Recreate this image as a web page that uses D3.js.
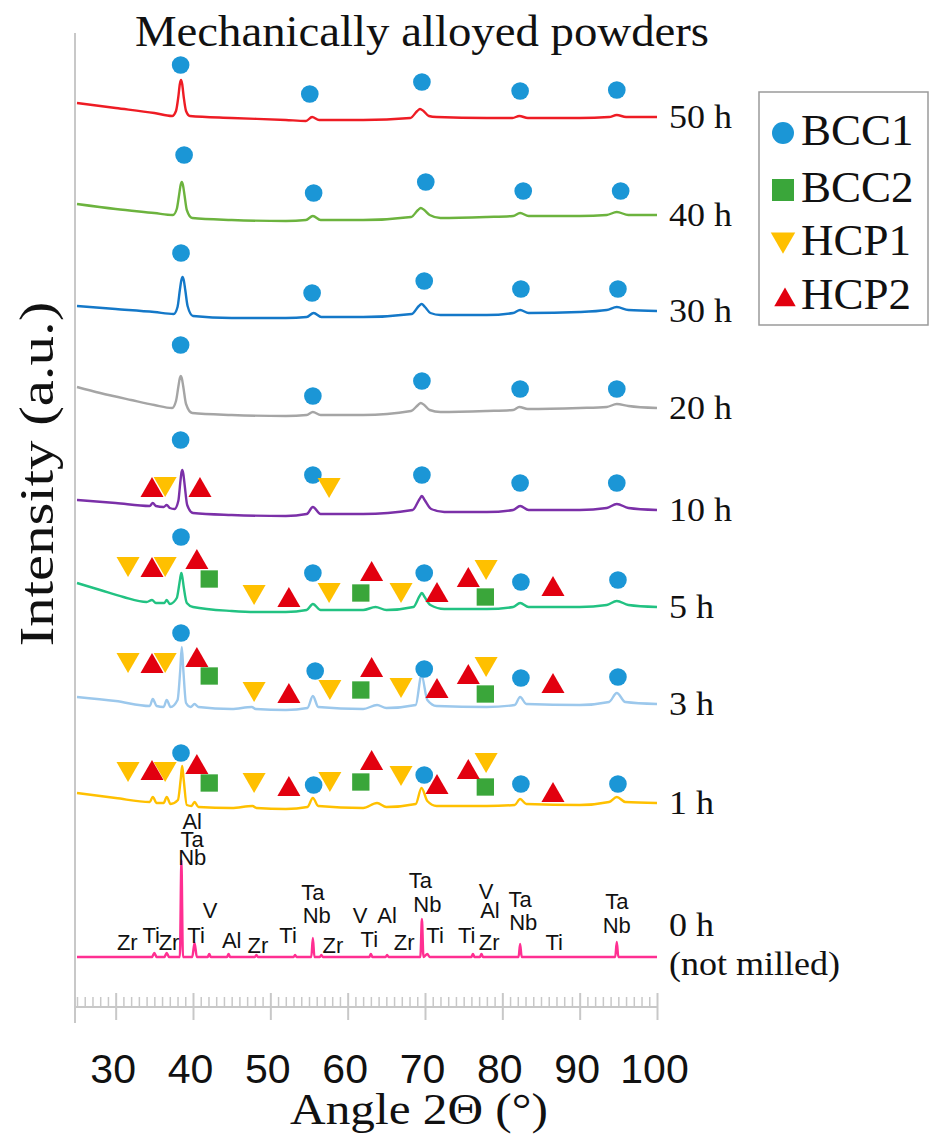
<!DOCTYPE html>
<html><head><meta charset="utf-8">
<script src="https://cdn.jsdelivr.net/npm/d3@7"></script>
<style>body{margin:0;background:#fff}svg{display:block}</style>
</head><body><svg id="chart" width="930" height="1137"></svg>
<script>
// ---------- data ----------
const seriesNames = ["50 h","40 h","30 h","20 h","10 h","5 h","3 h","1 h","0 h"];
const seriesColors = ["#ee1c24","#6cb33e","#1478c8","#a5a5a5","#7b30a8","#22c282","#9cc8ec","#ffc000","#ff2f92"];
const s50h = [[25,904],[30,899],[35,894],[37.3,891],[37.8,896],[38.1,910],[38.3,923],[38.45,927],[38.6,923],[38.8,910],[39.1,896],[39.6,891],[45,889],[52,887],[54.6,886],[55.4,890],[56.3,887],[62,887],[68.1,889],[69.0,896],[69.35,898],[69.8,896],[70.5,891],[71.5,890],[78,889],[81.3,889],[82.2,891],[83.3,889],[90,889],[93.8,890],[94.8,892],[96,890],[100,890]];
const s40h = [[25,803],[30,798],[35,794],[37.4,792],[37.9,798],[38.2,812],[38.4,822],[38.55,825],[38.7,822],[38.9,812],[39.2,797],[39.9,789],[45,787],[52,786],[54.6,787],[55.5,791],[56.5,787],[62,787],[68.2,790],[69.1,797],[69.45,799],[69.9,797],[70.6,792],[72,789],[78,790],[81.4,791],[82.3,794],[83.4,791],[90,791],[93.5,792],[94.8,795],[96.3,792],[100,792]];
const s30h = [[25,701],[30,698],[35,695],[37.5,693],[38.0,700],[38.3,717],[38.5,727],[38.65,730],[38.8,727],[39.0,717],[39.3,701],[40,691],[45,689],[52,689],[54.7,690],[55.6,694],[56.6,690],[62,690],[68.3,693],[69.2,701],[69.55,703],[70.0,700],[70.7,694],[72,692],[78,692],[81.4,694],[82.3,697],[83.4,694],[90,695],[93.5,697],[94.8,700],[96.3,697],[100,696]];
const s20h = [[25,620],[28,614],[32,607],[35,602],[37.3,599],[37.8,606],[38.1,620],[38.3,629],[38.42,631],[38.55,629],[38.75,620],[39.1,603],[39.9,594],[45,592],[52,591],[54.7,592],[55.5,595],[56.5,592],[62,592],[68.2,596],[69.1,602],[69.45,604],[69.9,602],[70.6,597],[72,595],[78,596],[81.4,597],[82.2,600],[83.3,598],[90,599],[93.5,600],[94.8,603],[96.3,601],[100,599]];
const s10h = [[25,507],[30,504],[34.4,501],[34.8,504],[35.2,501],[36.2,500],[36.6,502],[37.0,499],[37.6,498],[38.1,506],[38.35,524],[38.52,535],[38.62,537],[38.75,533],[38.95,520],[39.25,502],[40,494],[45,492],[52,491],[54.7,493],[55.5,500],[56.5,493],[62,493],[68.4,497],[69.3,508],[69.6,511],[69.95,507],[70.8,498],[72.5,495],[78,495],[81.4,497],[82.3,501],[83.4,497],[90,497],[93.5,499],[94.8,503],[96.3,499],[100,497]];
const s5h = [[25,424],[28,417],[31,410],[34,405],[34.7,407],[35.2,404],[36.3,404],[36.6,407],[37.0,403],[37.9,409],[38.25,424],[38.42,432],[38.5,434],[38.62,430],[38.8,420],[39.2,404],[40,400],[45,396],[48,395],[52,395],[54.7,397],[55.5,403],[56.5,397],[62,397],[63.6,400],[65,397],[68.5,400],[69.3,411],[69.6,414],[69.95,410],[70.7,402],[72.5,398],[78,398],[81.4,400],[82.3,404],[83.4,400],[90,400],[93.5,402],[94.8,406],[96.3,402],[100,400]];
const s3h = [[25,310],[30,306],[34.4,301],[34.8,308],[35.3,301],[36.2,300],[36.6,307],[37.1,300],[38.0,307],[38.35,337],[38.55,360],[38.75,337],[39.1,304],[39.7,300],[40.2,303],[40.7,300],[45,298],[47.6,300],[48.1,298],[52,297],[54.8,299],[55.5,311],[56.2,300],[62,298],[63.8,302],[65,299],[68.8,302],[69.55,332],[70.3,307],[71.5,301],[78,300],[81.6,302],[82.3,310],[83.1,303],[90,302],[93.8,305],[94.8,314],[95.9,305],[100,303]];
const s1h = [[25,214],[30,209],[34.4,205],[34.8,210],[35.3,204],[36.2,204],[36.6,210],[37.1,203],[38.05,207],[38.4,227],[38.6,241],[38.8,227],[39.2,202],[39.8,201],[40.2,205],[40.7,200],[45,199],[47.7,201],[48.2,199],[52,198],[54.8,200],[55.5,209],[56.2,201],[62,199],[63.8,204],[65,200],[68.8,203],[69.55,219],[70.3,206],[71.5,201],[78,201],[81.6,202],[82.3,208],[83.1,203],[90,202],[93.8,205],[94.8,210],[95.9,205],[100,204]];
const s0h = [[25,50],[34.7,50],[35.0,54],[35.3,50],[36.3,50],[36.6,54],[36.9,50],[38.3,50],[38.5,147],[38.7,50],[39.9,50],[40.2,64],[40.5,50],[41.9,50],[42.1,53],[42.3,50],[44.4,50],[44.6,53],[44.8,50],[48.0,50],[48.2,52],[48.4,50],[53.0,50],[53.2,52],[53.4,50],[55.3,50],[55.5,69],[55.7,50],[56.4,50],[56.6,52],[56.8,50],[62.8,50],[63.0,53],[63.2,50],[64.9,50],[65.1,52],[65.3,50],[69.4,50],[69.6,88],[69.8,50],[70.3,53],[70.6,50],[76.0,50],[76.2,53],[76.4,50],[77.1,50],[77.3,53],[77.5,50],[82.1,50],[82.3,63],[82.5,50],[94.6,50],[94.8,65],[95.0,50],[100,50]];
const seriesData = [s50h,s40h,s30h,s20h,s10h,s5h,s3h,s1h,s0h];

const phaseNames = ["BCC1","BCC2","HCP1","HCP2"];
const phaseColors = ["#1b96d6","#3aa63a","#ffc000","#e2000f"];
const bcc1Marks = [[38.4,942],[55.1,913],[69.6,925],[82.3,916],[94.8,917],
  [38.85,852],[55.6,814],[70.1,825],[82.7,816],[95.3,816],
  [38.45,754],[55.4,714],[69.9,726],[82.4,718],[94.95,718],
  [38.4,662],[55.5,611],[69.6,626],[82.3,618],[94.8,618],
  [38.4,567],[55.5,532],[69.6,532],[82.3,524],[94.8,524],
  [38.45,470],[55.5,434],[69.9,434],[82.4,425],[94.95,427],
  [38.45,374],[55.8,336],[69.9,338],[82.4,329],[94.95,330],
  [38.45,254],[55.6,222],[69.9,232],[82.4,223],[94.95,223]];
const bcc2Marks = [[42.1,428],[61.7,414],[77.8,410],
  [42.1,331],[61.7,317],[77.8,313],
  [42.1,224],[61.7,225],[77.8,220]];
const hcp1Marks = [[36.4,520],[57.6,519],
  [31.6,440],[36.4,440],[47.9,412],[57.6,414],[66.9,414],[77.9,437],
  [31.6,344],[36.4,344],[47.9,315],[57.7,317],[66.9,319],[77.9,340],
  [31.6,235],[36.4,235],[47.9,224],[57.7,225],[66.9,231],[77.9,244]];
const hcp2Marks = [[34.7,520],[40.9,520],
  [34.7,440],[40.5,448],[52.4,410],[63.1,436],[71.55,415],[75.6,430],[86.55,421],
  [34.7,344],[40.5,350],[52.4,314],[63.1,340],[71.55,319],[75.6,333],[86.55,324],
  [34.7,237],[40.5,243],[52.4,221],[63.1,247],[71.55,223],[75.6,238],[86.55,215]];

const elementLabels = [["Al",39.9,178],["Ta",39.9,160],["Nb",39.9,142],
  ["Zr",31.5,57],["Ti",34.6,64],["Zr",36.9,57],["Ti",40.4,64],["V",42.2,89],
  ["Al",45.0,59],["Zr",48.4,54],["Ti",52.3,64],["Ta",55.5,107],["Nb",56.0,84],
  ["Zr",58.1,54],["V",61.6,84],["Ti",62.8,60],["Al",65.1,84],["Zr",67.3,57],
  ["Ta",69.4,119],["Nb",70.3,95],["Ti",71.3,64],["Ti",75.4,64],["V",77.9,108],
  ["Al",78.4,89],["Zr",78.3,57],["Ta",82.3,100],["Nb",82.7,77],["Ti",86.7,57],
  ["Ta",94.8,98],["Nb",94.8,74]];

const xTicks = [30,40,50,60,70,80,90,100];
const titleText = "Mechanically alloyed powders";
const xTitle = "Angle 2\u0398 (\u00B0)";
const yTitle = "Intensity (a.u.)";

// ---------- drawing ----------
const svg = d3.select("#chart");
const serif = "'Liberation Serif','Times New Roman',serif";
const sans = "'Liberation Sans',Arial,sans-serif";
const x = d3.scaleLinear().domain([25,100]).range([77,657]);
const y = d3.scaleLinear().domain([0,1000]).range([1007,7]);
const axisY = 1007, axisColor = "#c8c8c8";

// y axis line
svg.append("line").attr("x1",75).attr("x2",75).attr("y1",33).attr("y2",1023)
  .attr("stroke",axisColor).attr("stroke-width",2);

// minor ticks (upwards)
const minorVals = d3.range(25,101,1).filter(v => v % 10 !== 0);
svg.append("g").attr("transform",`translate(0,${axisY})`)
  .call(d3.axisTop(x).tickValues(minorVals).tickSize(10).tickSizeOuter(0).tickFormat(""))
  .call(g => g.selectAll("line").attr("stroke",axisColor).attr("stroke-width",1.5))
  .call(g => g.select(".domain").remove());
// major ticks upper part
svg.append("g").attr("transform",`translate(0,${axisY})`)
  .call(d3.axisTop(x).tickValues(xTicks).tickSize(14).tickSizeOuter(0).tickFormat(""))
  .call(g => g.selectAll("line").attr("stroke",axisColor).attr("stroke-width",2))
  .call(g => g.select(".domain").remove());
// bottom axis with labels
const xAxisG = svg.append("g").attr("transform",`translate(0,${axisY})`)
  .call(d3.axisBottom(x).tickValues(xTicks).tickSize(13).tickSizeOuter(0).tickPadding(34));
xAxisG.select(".domain").attr("stroke",axisColor).attr("stroke-width",2)
  .attr("d",`M75,0H657`);
xAxisG.selectAll(".tick line").attr("stroke",axisColor).attr("stroke-width",2);
xAxisG.selectAll(".tick text").attr("font-family",sans).attr("font-size",41).attr("fill","#111")
  .attr("dx",-3);

// series lines
const line = d3.line().x(d => x(d[0])).y(d => y(d[1])).curve(d3.curveMonotoneX);
seriesData.forEach((data,i) => {
  svg.append("path").datum(data).attr("d",line)
    .attr("fill","none").attr("stroke",seriesColors[i]).attr("stroke-width",2.4)
    .attr("stroke-linejoin","round");
});

// series labels
function labelText(tx, ty, str) {
  svg.append("text").attr("transform",`translate(${tx},${ty}) scale(1.06,1)`).text(str)
    .attr("font-family",serif).attr("font-size",34).attr("fill","#111");
}
seriesData.forEach((data,i) => {
  const last = data[data.length-1];
  const ly = y(last[1]);
  if (seriesNames[i] === "0 h") {
    labelText(669, ly-21, "0 h");
    labelText(669, ly+18, "(not milled)");
  } else {
    labelText(669, ly+11, seriesNames[i]);
  }
});

// phase markers
const triSize = 230;
const triOff = Math.sqrt(triSize/(3*Math.sqrt(3)))/2;
function drawMarks(data, type, color) {
  const g = svg.append("g");
  data.forEach(d => {
    const px = x(d[0]), py = y(d[1]);
    let sym, tr = `translate(${px},${py})`;
    if (type === 0) sym = d3.symbol(d3.symbolCircle, 245);
    else if (type === 1) sym = d3.symbol(d3.symbolSquare, 300);
    else if (type === 2) { sym = d3.symbol(d3.symbolTriangle, triSize); tr = `translate(${px},${py - triOff}) rotate(180)`; }
    else { sym = d3.symbol(d3.symbolTriangle, triSize); tr = `translate(${px},${py + triOff})`; }
    g.append("path").attr("d",sym()).attr("transform",tr).attr("fill",color);
  });
}
drawMarks(bcc1Marks,0,phaseColors[0]);
drawMarks(bcc2Marks,1,phaseColors[1]);
drawMarks(hcp1Marks,2,phaseColors[2]);
drawMarks(hcp2Marks,3,phaseColors[3]);

// element labels for 0 h
svg.append("g").selectAll("text").data(elementLabels).join("text")
  .attr("x",d => x(d[1])).attr("y",d => y(d[2])).attr("text-anchor","middle")
  .attr("font-family",sans).attr("font-size",22).attr("fill","#111").text(d => d[0]);

// titles
svg.append("text").attr("transform","translate(422,46) scale(1.04,1)").attr("text-anchor","middle")
  .attr("font-family",serif).attr("font-size",45).attr("fill","#111").text(titleText);
svg.append("text").attr("transform","translate(419,1124) scale(1.12,1)").attr("text-anchor","middle")
  .attr("font-family",serif).attr("font-size",44).attr("fill","#111").text(xTitle);
svg.append("text").attr("transform","translate(53,474) rotate(-90) scale(1.2,1)").attr("text-anchor","middle")
  .attr("font-family",serif).attr("font-size",49).attr("fill","#111").text(yTitle);

// legend
const lg = svg.append("g");
lg.append("rect").attr("x",759).attr("y",92).attr("width",169).attr("height",233)
  .attr("fill","#fff").attr("stroke","#9a9a9a").attr("stroke-width",1.5);
const legendRows = [133,190,243,297];
phaseNames.forEach((name,i) => {
  const cy = legendRows[i];
  let sym, tr = `translate(783,${cy})`;
  if (i === 0) sym = d3.symbol(d3.symbolCircle, 380);
  else if (i === 1) sym = d3.symbol(d3.symbolSquare, 484);
  else if (i === 2) { sym = d3.symbol(d3.symbolTriangle, 260); tr = `translate(783,${cy-3.5}) rotate(180)`; }
  else { sym = d3.symbol(d3.symbolTriangle, 200); tr = `translate(785,${cy+3})`; }
  lg.append("path").attr("d",sym()).attr("transform",tr).attr("fill",phaseColors[i]);
  lg.append("text").attr("x",801).attr("y",cy+12).text(name)
    .attr("font-family",serif).attr("font-size",45).attr("fill","#111");
});
</script></body></html>
